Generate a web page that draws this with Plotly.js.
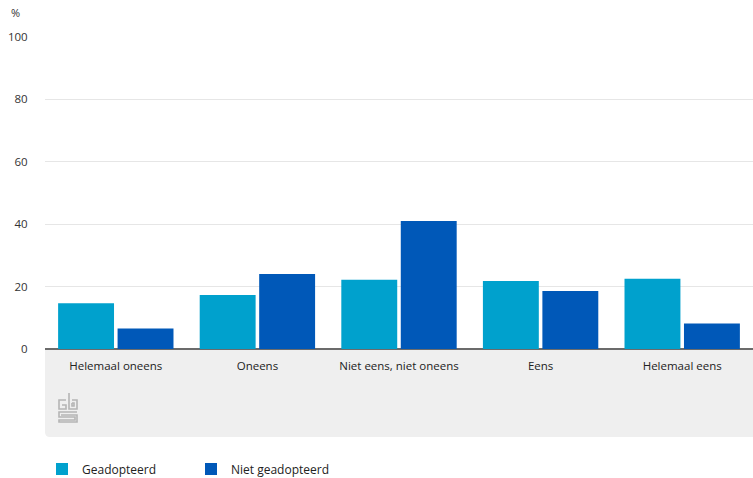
<!DOCTYPE html>
<html>
<head>
<meta charset="utf-8">
<script src="https://cdn.plot.ly/plotly-3.0.1.min.js"></script>
<style>html,body{margin:0;padding:0;background:#fff;}#chart{width:753px;height:478px;}</style>
</head>
<body>
<div id="chart"></div>
<script>
var categories = ["Helemaal oneens", "Oneens", "Niet eens, niet oneens", "Eens", "Helemaal eens"];
var geadopteerd = [14.7, 17.3, 22.2, 21.8, 22.5];
var nietGeadopteerd = [6.6, 24.0, 41.0, 18.6, 8.2];
var seriesNames = ["Geadopteerd", "Niet geadopteerd"];
var yTicks = [0, 20, 40, 60, 80, 100];

var W = 753, H = 478;
var M = {l: 45, r: 0, t: 37, b: 129, autoexpand: false};
var PW = W - M.l - M.r, PH = H - M.t - M.b;
function px(x) { return (x - M.l) / PW; }
function py(y) { return (H - M.b - y) / PH; }
function P(pts) {
  return pts.map(function (p, i) { return (i ? "L" : "M") + px(p[0]).toFixed(5) + "," + py(p[1]).toFixed(5); }).join(" ");
}

var fontFam = "'Open Sans', 'Noto Sans', sans-serif";

var traces = [
  {type: "bar", name: seriesNames[0], x: categories, y: geadopteerd, marker: {color: "#00a1cd"}, hoverinfo: "x+y"},
  {type: "bar", name: seriesNames[1], x: categories, y: nietGeadopteerd, marker: {color: "#0058b8"}, hoverinfo: "x+y"}
];

// gray band below the axis with rounded bottom-left corner
var r = 5;
var bandPath = "M" + px(45) + "," + py(349) + " L" + px(753) + "," + py(349) + " L" + px(753) + "," + py(437) +
  " L" + px(45 + r) + "," + py(437) + " Q" + px(45) + "," + py(437) + " " + px(45) + "," + py(437 - r) + " Z";

var logoLine = {color: "#b5b5b5", width: 1.6};
var shapes = [
  {type: "path", xref: "paper", yref: "paper", path: bandPath, fillcolor: "#efefef", line: {width: 0}, layer: "below"},
  // stylised cbs logo
  {type: "path", xref: "paper", yref: "paper", path: P([[66, 400], [59, 400], [59, 409], [66, 409], [66, 405], [62, 405]]), line: logoLine},
  {type: "path", xref: "paper", yref: "paper", path: P([[69, 393], [69, 409], [77, 409], [77, 400], [72, 400]]), line: logoLine},
  {type: "path", xref: "paper", yref: "paper", path: P([[72, 403], [74, 403], [74, 406], [72, 406], [72, 403]]), line: logoLine},
  {type: "path", xref: "paper", yref: "paper", path: P([[77, 412], [59, 412], [59, 417], [75, 417], [75, 420], [59, 420], [59, 422], [77, 422], [77, 415], [61, 415]]), line: logoLine}
];

var layout = {
  width: W, height: H,
  margin: M,
  paper_bgcolor: "#ffffff",
  plot_bgcolor: "rgba(0,0,0,0)",
  font: {family: fontFam, size: 12, color: "#333333"},
  barmode: "group",
  bargap: 0.16,
  bargroupgap: 0.06,
  showlegend: true,
  legend: {
    orientation: "h", x: px(42), xanchor: "left", y: py(469), yanchor: "middle",
    font: {family: fontFam, size: 12, color: "#222222"},
    entrywidth: 104, entrywidthmode: "pixels", bgcolor: "rgba(0,0,0,0)"
  },
  xaxis: {
    type: "category",
    showgrid: false, zeroline: false,
    showline: false,
    ticks: "outside", ticklen: 6, tickcolor: "rgba(0,0,0,0)",
    tickfont: {family: fontFam, size: 11.5, color: "#222222"},
    fixedrange: true
  },
  yaxis: {
    range: [0, 100], tickvals: yTicks, ticktext: yTicks.map(String),
    showgrid: true, gridcolor: "#e6e6e6", gridwidth: 1,
    zeroline: true, zerolinecolor: "#6b6b6b", zerolinewidth: 2,
    showline: false,
    ticks: "outside", ticklen: 14, tickcolor: "rgba(0,0,0,0)",
    tickfont: {family: fontFam, size: 11.5, color: "#333333"},
    fixedrange: true
  },
  shapes: shapes,
  annotations: [
    {xref: "paper", yref: "paper", x: px(9), y: py(12), xanchor: "left", yanchor: "middle", text: "%", showarrow: false,
     font: {family: fontFam, size: 11, color: "#333333"}}
  ]
};

Plotly.newPlot("chart", traces, layout, {displayModeBar: false, staticPlot: true});
</script>
</body>
</html>
